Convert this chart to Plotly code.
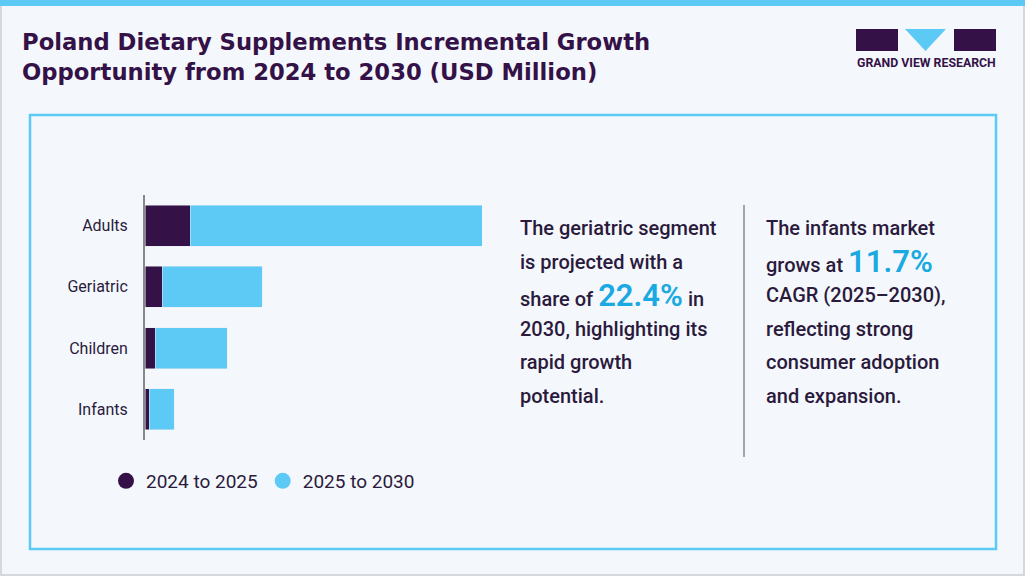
import plotly.graph_objects as go

W, H = 1025, 576
segments = ["Adults", "Geriatric", "Children", "Infants"]
val_2024_2025 = [45, 17, 10, 4]
val_2025_2030 = [292, 100, 72, 25]

DARK = "#341147"
LIGHT = "#5dcaf6"
TXT = "#2b1a3c"


def px(x):
    return x / W


def py(y):
    return 1 - y / H


fig = go.Figure()
fig.add_trace(go.Bar(y=segments, x=val_2024_2025, orientation="h", marker_color=DARK,
                     width=0.67, showlegend=False))
fig.add_trace(go.Bar(y=segments, x=val_2025_2030, orientation="h", marker_color=LIGHT,
                     width=0.67, showlegend=False))
# legend entries with round markers
fig.add_trace(go.Scatter(x=[None], y=[None], mode="markers", name="2024 to 2025",
                         marker=dict(color=DARK, size=16, symbol="circle")))
fig.add_trace(go.Scatter(x=[None], y=[None], mode="markers", name="2025 to 2030",
                         marker=dict(color=LIGHT, size=16, symbol="circle")))

shapes = [
    dict(type="rect", xref="paper", yref="paper", x0=px(1), x1=px(1024), y0=py(575), y1=py(1),
         line=dict(color="#c9ced6", width=1.5), fillcolor="rgba(0,0,0,0)", layer="below"),
    dict(type="rect", xref="paper", yref="paper", x0=0, x1=1, y0=py(6), y1=1,
         line=dict(width=0), fillcolor="#5dcaf6"),
    dict(type="rect", xref="paper", yref="paper", x0=px(30), x1=px(996), y0=py(549), y1=py(115),
         line=dict(color=LIGHT, width=2.5), fillcolor="rgba(0,0,0,0)"),
    dict(type="line", xref="paper", yref="paper", x0=px(744), x1=px(744), y0=py(457), y1=py(205),
         line=dict(color="#8a8a8a", width=1.5)),
    # logo
    dict(type="rect", xref="paper", yref="paper", x0=px(856), x1=px(898), y0=py(51), y1=py(29),
         line=dict(width=0), fillcolor=DARK),
    dict(type="path", xref="paper", yref="paper",
         path=f"M {px(905)} {py(29)} L {px(946)} {py(29)} L {px(925.5)} {py(51)} Z",
         line=dict(width=0), fillcolor=LIGHT),
    dict(type="rect", xref="paper", yref="paper", x0=px(954), x1=px(996), y0=py(51), y1=py(29),
         line=dict(width=0), fillcolor=DARK),
]

HL = "<span style='font-size:31px;color:#1ba9e1;font-weight:600'>"
ann = [
    dict(text="Poland Dietary Supplements Incremental Growth<br>Opportunity from 2024 to 2030 (USD Million)",
         x=px(20), y=py(27), xanchor="left", yanchor="top", align="left",
         font=dict(size=22.7, color=DARK, family="DejaVu Sans", weight=900)),
    dict(text="<b>GRAND VIEW RESEARCH</b>", x=px(926), y=py(63), xanchor="center", yanchor="middle",
         font=dict(size=12.3, color=DARK, family="Roboto")),
]
text_left = ["The geriatric segment", "is projected with a", "share of " + HL + "22.4%</span> in",
             "2030, highlighting its", "rapid growth", "potential."]
text_right = ["The infants market", "grows at " + HL + "11.7%</span>", "CAGR (2025–2030),",
              "reflecting strong", "consumer adoption", "and expansion."]
for x0, lines in ((518, text_left), (764, text_right)):
    for i, t in enumerate(lines):
        ann.append(dict(text=t, x=px(x0), y=py(228 + 33.5 * i), xanchor="left", yanchor="middle",
                        align="left", font=dict(size=20, color=TXT, family="Roboto", weight=500)))
for a in ann:
    a.update(xref="paper", yref="paper", showarrow=False)

fig.update_layout(
    width=W, height=H, margin=dict(l=0, r=0, t=0, b=0),
    paper_bgcolor="#f4f8fc", plot_bgcolor="rgba(0,0,0,0)",
    barmode="stack", bargap=0.33,
    font=dict(family="Roboto", color=TXT, size=16),
    xaxis=dict(domain=[px(145), px(482)], range=[0, 337], visible=False, fixedrange=True),
    yaxis=dict(domain=[py(440), py(195)], range=[3.5, -0.5], showgrid=False,
               showline=True, linecolor="#888888", linewidth=2, ticks="", ticklabelstandoff=12,
               tickfont=dict(size=16, color=TXT)),
    legend=dict(orientation="h", x=px(106), y=py(481), xanchor="left", yanchor="middle",
                traceorder="normal", font=dict(size=19, color=TXT), itemwidth=30,
                bgcolor="rgba(0,0,0,0)"),
    shapes=shapes, annotations=ann,
)
fig.write_html("out.html", config={"displayModeBar": False})

# drop the default page margin so the figure sits at the window corner
with open("out.html", encoding="utf-8") as f:
    html = f.read()
html = html.replace("<head>", "<head><style>body{margin:0;}</style>", 1)
with open("out.html", "w", encoding="utf-8") as f:
    f.write(html)
